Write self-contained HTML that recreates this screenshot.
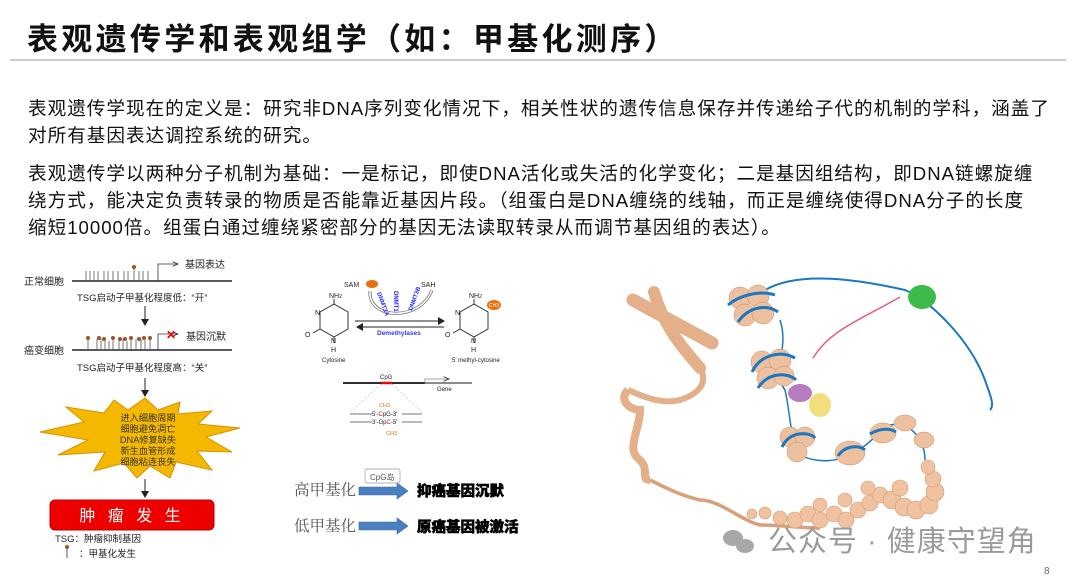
<!DOCTYPE html>
<html><head><meta charset="utf-8"><style>
body{margin:0;width:1080px;height:583px;background:#fff;position:relative;overflow:hidden;font-family:"Liberation Sans","Noto Sans CJK SC",sans-serif;color:#111}
.t{position:absolute;white-space:nowrap}
.title{left:27px;top:14px;font-size:31px;font-weight:bold;letter-spacing:3.3px}
.hr{position:absolute;left:10px;top:59px;width:1056px;height:2px;background:#ccc}
.p{left:28px;font-size:18.6px;letter-spacing:1.0px}
</style></head><body>
<div class="t title">表观遗传学和表观组学（如：甲基化测序）</div>
<div class="hr"></div>
<div class="t p" style="top:94px">表观遗传学现在的定义是：研究非DNA序列变化情况下，相关性状的遗传信息保存并传递给子代的机制的学科，涵盖了</div>
<div class="t p" style="top:121px">对所有基因表达调控系统的研究。</div>
<div class="t p" style="top:159px">表观遗传学以两种分子机制为基础：一是标记，即使DNA活化或失活的化学变化；二是基因组结构，即DNA链螺旋缠</div>
<div class="t p" style="top:186px">绕方式，能决定负责转录的物质是否能靠近基因片段。（组蛋白是DNA缠绕的线轴，而正是缠绕使得DNA分子的长度</div>
<div class="t p" style="top:213px">缩短10000倍。组蛋白通过缠绕紧密部分的基因无法读取转录从而调节基因组的表达）。</div>

<svg width="1080" height="583" style="position:absolute;left:0;top:0" font-family="Liberation Sans,Noto Sans CJK SC,sans-serif">
<defs><marker id="ah" markerWidth="8" markerHeight="8" refX="6" refY="4" orient="auto"><path d="M0,0L7,4L0,8z" fill="#222"/></marker>
<marker id="ao" markerWidth="8" markerHeight="8" refX="7" refY="4" orient="auto"><path d="M0,1L7,4L0,7" fill="none" stroke="#333" stroke-width="1"/></marker></defs>
<g font-size="10" fill="#222">
<text x="24" y="285">正常细胞</text>
<line x1="72" y1="281" x2="232" y2="281" stroke="#222" stroke-width="1.5"/>
<g stroke="#555" stroke-width="0.8">
<line x1="86" y1="271" x2="86" y2="281"/><line x1="90" y1="271" x2="90" y2="281"/><line x1="94" y1="271" x2="94" y2="281"/><line x1="98" y1="271" x2="98" y2="281"/><line x1="104" y1="271" x2="104" y2="281"/><line x1="108" y1="271" x2="108" y2="281"/><line x1="113" y1="271" x2="113" y2="281"/><line x1="118" y1="271" x2="118" y2="281"/><line x1="124" y1="271" x2="124" y2="281"/><line x1="128" y1="271" x2="128" y2="281"/><line x1="139" y1="271" x2="139" y2="281"/><line x1="143" y1="271" x2="143" y2="281"/><line x1="148" y1="271" x2="148" y2="281"/><line x1="134" y1="268" x2="134" y2="281"/></g>
<circle cx="134" cy="267" r="2" fill="#a0522d"/>
<path d="M158,281V264H178" fill="none" stroke="#333" stroke-width="0.8" marker-end="url(#ao)"/>
<text x="185" y="268">基因表达</text>
<text x="77" y="301" font-size="9.5">TSG启动子甲基化程度低：“开”</text>
<line x1="145" y1="306" x2="145" y2="325" stroke="#222" marker-end="url(#ah)"/>
<text x="24" y="354">癌变细胞</text>
<line x1="72" y1="350" x2="232" y2="350" stroke="#222" stroke-width="1.5"/>
<g stroke="#555" stroke-width="0.8">
<line x1="88" y1="339" x2="88" y2="350"/><line x1="97" y1="339" x2="97" y2="350"/><line x1="101" y1="339" x2="101" y2="350"/><line x1="105" y1="339" x2="105" y2="350"/><line x1="109" y1="341" x2="109" y2="350"/><line x1="113" y1="339" x2="113" y2="350"/><line x1="119" y1="339" x2="119" y2="350"/><line x1="123" y1="339" x2="123" y2="350"/><line x1="127" y1="341" x2="127" y2="350"/><line x1="131" y1="339" x2="131" y2="350"/><line x1="136" y1="339" x2="136" y2="350"/><line x1="141" y1="339" x2="141" y2="350"/><line x1="145" y1="339" x2="145" y2="350"/><line x1="150" y1="339" x2="150" y2="350"/></g>
<g fill="#a0522d"><circle cx="88" cy="338" r="2"/><circle cx="99" cy="338" r="2"/><circle cx="104" cy="339" r="2"/><circle cx="113" cy="338" r="2"/><circle cx="120" cy="339" r="2"/><circle cx="125" cy="339" r="2"/><circle cx="131" cy="338" r="2"/><circle cx="139" cy="339" r="2"/><circle cx="144" cy="338" r="2"/><circle cx="150" cy="338" r="2"/></g>
<path d="M158,350V334H178" fill="none" stroke="#333" stroke-width="0.8" marker-end="url(#ao)"/>
<text x="166" y="339" fill="#e00" font-size="12" font-weight="bold">✕</text>
<text x="186" y="340">基因沉默</text>
<text x="77" y="371" font-size="9.5">TSG启动子甲基化程度高：“关”</text>
<line x1="145" y1="378" x2="145" y2="396" stroke="#222" marker-end="url(#ah)"/>
<polygon points="145,398 158,410 180,402 178,414 212,411 198,424 240,428 206,437 232,452 197,451 212,470 176,462 170,478 150,466 137,478 124,463 94,471 105,452 58,455 88,440 40,432 84,422 66,407 104,413 114,400 128,410" fill="#f5b800" stroke="#d99000" stroke-width="1"/>
<g font-size="9.2" text-anchor="middle" fill="#333"><text x="148" y="421">进入细胞周期</text><text x="148" y="432">细胞避免凋亡</text><text x="148" y="443">DNA修复缺失</text><text x="148" y="454">新生血管形成</text><text x="148" y="465">细胞粘连丧失</text></g>
<line x1="145" y1="479" x2="145" y2="497" stroke="#222" marker-end="url(#ah)"/>
<rect x="50" y="500" width="164" height="30" rx="5" fill="#ee0000" stroke="#b00" />
<text x="132" y="521" fill="#fff" font-size="16" text-anchor="middle" letter-spacing="4">肿 瘤 发 生</text>
<text x="55" y="542" font-size="9.5">TSG：肿瘤抑制基因</text>
<line x1="67" y1="548" x2="67" y2="558" stroke="#555"/><circle cx="67" cy="547" r="2" fill="#a0522d"/>
<text x="79" y="557" font-size="9.5">：甲基化发生</text>
</g>
<g font-size="7" fill="#222">
<text x="344" y="287">SAM</text><ellipse cx="372" cy="284" rx="6" ry="4" fill="#e87010"/>
<text x="421" y="287">SAH</text>
<path d="M370,291 C368,320 420,322 432,290" fill="none" stroke="#666" stroke-width="3"/>
<path d="M370,291 C368,320 420,322 432,290" fill="none" stroke="#fff" stroke-width="1.6"/>
<g fill="#22f" font-size="6" font-weight="bold">
<text transform="translate(377,293) rotate(70)">DNMT3A</text>
<text transform="translate(394,291) rotate(90)">DNMT1</text>
<text transform="translate(412,311) rotate(-70)">DNMT3B</text></g>
<line x1="355" y1="321" x2="444" y2="321" stroke="#222" marker-end="url(#ah)"/>
<line x1="444" y1="327" x2="357" y2="327" stroke="#222" marker-end="url(#ah)"/>
<text x="377" y="335" fill="#33f" font-size="6.5" font-weight="bold">Demethylases</text>
<g stroke="#222" stroke-width="0.9" fill="none"><polygon points="334,304 348,312 348,329 334,337 320,329 320,312"/><line x1="334" y1="304" x2="334" y2="299"/><line x1="320" y1="329" x2="313" y2="333"/><line x1="334" y1="337" x2="334" y2="343"/></g>
<text x="329" y="298">NH<tspan font-size="5">2</tspan></text><text x="315" y="315">N</text><text x="305" y="337">O</text><text x="331" y="343">N</text><text x="331" y="352">H</text>
<text x="322" y="362" font-size="6">Cytosine</text>
<g stroke="#222" stroke-width="0.9" fill="none"><polygon points="474,304 488,312 488,329 474,337 460,329 460,312"/><line x1="474" y1="304" x2="474" y2="299"/><line x1="460" y1="329" x2="453" y2="333"/><line x1="474" y1="337" x2="474" y2="343"/></g>
<text x="469" y="298">NH<tspan font-size="5">2</tspan></text><text x="455" y="315">N</text><text x="445" y="337">O</text><text x="471" y="343">N</text><text x="471" y="352">H</text>
<ellipse cx="494" cy="305" rx="7" ry="5" fill="#e87010"/><text x="489" y="307" fill="#fff" font-size="5">CH3</text>
<text x="452" y="362" font-size="6">5' methyl-cytosine</text>
<line x1="343" y1="383" x2="425" y2="383" stroke="#111" stroke-width="1.8"/>
<line x1="425" y1="383" x2="472" y2="383" stroke="#666" stroke-width="1.6"/>
<line x1="381" y1="383" x2="392" y2="383" stroke="#e00" stroke-width="2.5"/>
<path d="M425,383V379H449" fill="none" stroke="#888" stroke-width="0.8" marker-end="url(#ao)"/>
<text x="380" y="379" font-size="6">CpG</text><text x="437" y="391" font-size="6">Gene</text>
<g stroke="#888" stroke-width="0.5" stroke-dasharray="2,2"><line x1="381" y1="384" x2="351" y2="412"/><line x1="392" y1="384" x2="422" y2="412"/></g>
<g stroke="#444" stroke-width="0.7"><line x1="350" y1="414" x2="372" y2="414"/><line x1="402" y1="414" x2="422" y2="414"/><line x1="350" y1="422" x2="372" y2="422"/><line x1="402" y1="422" x2="422" y2="422"/></g>
<text x="372" y="416" font-size="6">5'-<tspan fill="#e00">C</tspan>pG-3'</text>
<text x="372" y="424" font-size="6">3'-Gp<tspan fill="#e00">C</tspan>-5'</text>
<text x="379" y="407" font-size="5.5" fill="#e87010">CH3</text><text x="386" y="435" font-size="5.5" fill="#e87010">CH3</text>
<rect x="365" y="469" width="35" height="14" rx="2" fill="#fff" stroke="#999" stroke-width="0.7"/>
<text x="370" y="480" font-size="8" fill="#555">CpG岛</text>
</g>
<g font-size="15.5" fill="#555" font-family="Liberation Serif,Noto Serif CJK SC,serif"><text x="294" y="495">高甲基化</text><text x="294" y="531">低甲基化</text></g>
<g fill="#4a7fc0" stroke="#3a6aa8" stroke-width="0.6"><polygon points="359,487 397,487 397,483 408,491 397,499 397,495 359,495"/><polygon points="359,522 397,522 397,518 408,526 397,534 397,530 359,530"/></g>
<g font-size="14.5" font-weight="900" fill="#000" stroke="#000" stroke-width="0.5"><text x="417" y="496">抑癌基因沉默</text><text x="417" y="532">原癌基因被激活</text></g>
<g>
<path d="M633,300 L712,343" stroke="#e3b08a" stroke-width="13" stroke-linecap="round"/>
<path d="M654,292 C665,330 685,350 700,368" stroke="#e3b08a" stroke-width="12" stroke-linecap="round" fill="none"/>
<path d="M700,368 C710,385 695,395 680,400 C660,405 640,395 628,390" stroke="#e3b08a" stroke-width="6" fill="none"/>
<path d="M628,390 C618,400 630,410 640,410 C640,430 625,450 640,460 C650,470 640,480 650,480" stroke="#e3b08a" stroke-width="8" fill="none"/>
<path d="M650,480 C670,490 680,495 700,500 C720,500 740,520 760,525 C780,525 800,528 820,528" stroke="#d9a07a" stroke-width="3.5" fill="none"/>
<g fill="#f0c2a0" stroke="#d29a75" stroke-width="0.6">
<circle cx="780" cy="518" r="7"/><circle cx="795" cy="520" r="8"/><circle cx="808" cy="514" r="8"/><circle cx="820" cy="520" r="8"/><circle cx="834" cy="514" r="8"/><circle cx="846" cy="520" r="8"/><circle cx="858" cy="510" r="8"/><circle cx="870" cy="503" r="8"/><circle cx="880" cy="495" r="8"/><circle cx="892" cy="500" r="9"/><circle cx="904" cy="507" r="9"/><circle cx="916" cy="510" r="9"/><circle cx="929" cy="505" r="9"/><circle cx="935" cy="492" r="9"/><circle cx="933" cy="479" r="8"/><circle cx="928" cy="467" r="7"/><circle cx="765" cy="513" r="6"/><circle cx="752" cy="514" r="5"/>
<circle cx="820" cy="505" r="7"/><circle cx="845" cy="500" r="7"/><circle cx="868" cy="488" r="7"/><circle cx="900" cy="488" r="8"/>
</g>
<path d="M765,290 C800,270 860,280 905,290 C930,300 970,340 985,380 C990,395 995,405 990,410" stroke="#1a78c2" stroke-width="2" fill="none"/>
<path d="M813,358 C830,330 860,320 900,297" stroke="#e06080" stroke-width="1.5" fill="none"/>
<ellipse cx="922" cy="297" rx="14" ry="12" fill="#3cba4a"/>
<path d="M780,320 C790,350 770,370 785,390 C790,410 790,440 800,455 C820,465 840,460 850,455 C870,445 880,430 890,425 C910,420 925,440 925,460" stroke="#1a78c2" stroke-width="1.5" fill="none"/>
<g fill="#edc0a0" stroke="#c48a65" stroke-width="0.5">
<circle cx="740" cy="298" r="11"/><circle cx="758" cy="296" r="11"/><circle cx="745" cy="315" r="11"/><circle cx="763" cy="313" r="11"/>
<circle cx="762" cy="362" r="11"/><circle cx="780" cy="360" r="11"/><circle cx="768" cy="378" r="11"/><circle cx="784" cy="376" r="10"/>
<circle cx="790" cy="437" r="10"/><circle cx="805" cy="437" r="10"/><circle cx="797" cy="452" r="10"/>
<ellipse cx="850" cy="453" rx="15" ry="12"/><ellipse cx="883" cy="433" rx="13" ry="10"/><ellipse cx="905" cy="423" rx="11" ry="8"/><ellipse cx="924" cy="440" rx="10" ry="8"/>
</g>
<g stroke="#1a78c2" stroke-width="3" fill="none"><path d="M728,305 C740,295 760,290 775,295"/><path d="M738,322 C750,305 768,305 778,312"/><path d="M752,372 C760,355 780,350 795,358"/><path d="M758,388 C768,372 788,372 796,380"/><path d="M782,447 C790,430 810,432 815,438"/><path d="M838,456 C845,445 860,445 865,450"/><path d="M870,434 C880,428 890,428 896,432"/></g>
<ellipse cx="800" cy="393" rx="12" ry="9" fill="#b87cc0"/>
<ellipse cx="820" cy="405" rx="11" ry="12" fill="#f2de7a"/>
</g>
<g fill="#999" opacity="0.85"><ellipse cx="733" cy="538" rx="10" ry="8"/><ellipse cx="745" cy="546" rx="9" ry="7"/></g>
<text x="768" y="551" font-size="29" fill="#9a9a9a" letter-spacing="1">公众号 · 健康守望角</text>
<text x="1044" y="574" font-size="10" fill="#666">8</text>
</svg>
</body></html>
